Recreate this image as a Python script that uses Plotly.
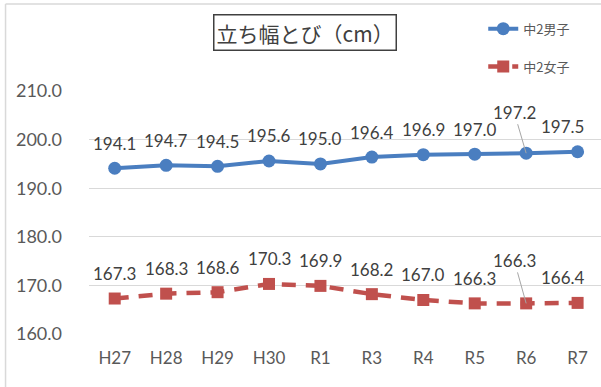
import plotly.graph_objects as go

categories = ["H27", "H28", "H29", "H30", "R1", "R3", "R4", "R5", "R6", "R7"]
boys = [194.1, 194.7, 194.5, 195.6, 195.0, 196.4, 196.9, 197.0, 197.2, 197.5]
girls = [167.3, 168.3, 168.6, 170.3, 169.9, 168.2, 167.0, 166.3, 166.3, 166.4]
y_ticks = [160, 170, 180, 190, 200, 210]
title_text = "立ち幅とび（cm）"
boys_name = "中2男子"
girls_name = "中2女子"
leader_idx = 8  # R6 labels with leader lines
last_idx = 9    # R7 labels pulled left

BLUE = "#4A7EC0"
RED = "#C0504D"
TXT = "#595959"
LABEL_FONT = dict(family="Lato, 'Noto Sans', sans-serif", size=17, color="#404040")

fig = go.Figure()
fig.add_trace(go.Scatter(
    x=categories, y=boys, name=boys_name, mode="lines+markers",
    line=dict(color=BLUE, width=4), marker=dict(symbol="circle", size=13, color=BLUE),
    legendgroup="b", cliponaxis=False,
))
fig.add_trace(go.Scatter(
    x=categories, y=girls, name=girls_name, mode="lines+markers",
    line=dict(color=RED, width=4.5, dash="14px,10px"), marker=dict(symbol="square", size=12, color=RED),
    legendgroup="g", cliponaxis=False,
))

for vals, ay in ((boys, -41), (girls, -43)):
    for i, (c, v) in enumerate(zip(categories, vals)):
        if i == leader_idx:
            fig.add_annotation(
                x=c, y=v, xref="x", yref="y", text=f"{v:.1f}", showarrow=True,
                arrowhead=0, arrowwidth=1, arrowcolor="#A6A6A6", ax=-12, ay=ay,
                standoff=0, font=LABEL_FONT,
            )
        else:
            fig.add_annotation(
                x=c, y=v, xref="x", yref="y", text=f"{v:.1f}", showarrow=False,
                yshift=25, xshift=(-15 if i == last_idx else 0), font=LABEL_FONT,
            )

# title box
fig.add_annotation(
    x=0.4225, y=1.242, xref="paper", yref="paper", xanchor="center", yanchor="middle",
    text=title_text, showarrow=False,
    font=dict(family="'Noto Sans CJK JP', sans-serif", size=21, color="#404040"),
    bordercolor="#404040", borderwidth=1.5, borderpad=2, bgcolor="white",
)

# outer chart border (only left and top edges visible in the crop)
fig.add_shape(type="line", xref="paper", yref="paper",
              x0=-0.163, x1=-0.163, y0=-0.3, y1=1.358,
              line=dict(color="#D9D9D9", width=1.5), layer="below")
fig.add_shape(type="line", xref="paper", yref="paper",
              x0=-0.163, x1=1.1, y0=1.358, y1=1.358,
              line=dict(color="#D9D9D9", width=1.5), layer="below")

fig.update_layout(
    width=601, height=387,
    margin=dict(l=89, r=0, t=91, b=53, autoexpand=False),
    paper_bgcolor="white", plot_bgcolor="white",
    showlegend=True,
    legend=dict(
        x=0.77, y=1.318, xanchor="left", yanchor="top",
        font=dict(family="'Noto Sans CJK JP', sans-serif", size=13, color=TXT),
        tracegroupgap=18, bgcolor="rgba(0,0,0,0)", itemwidth=30,
    ),
    xaxis=dict(
        type="category", range=[-0.5, 9.455], showgrid=False, zeroline=False,
        showline=False, ticks="", tickfont=dict(family="Lato, sans-serif", size=17, color=TXT),
        ticklabelstandoff=12, automargin=False,
    ),
    yaxis=dict(
        range=[160, 210], tickvals=y_ticks, ticktext=[f"{v:.1f}" for v in y_ticks],
        showgrid=True, gridcolor="#D9D9D9", gridwidth=1.3, zeroline=False, showline=False,
        ticks="", tickfont=dict(family="Lato, sans-serif", size=18, color=TXT),
        ticklabelstandoff=26, automargin=False,
    ),
)

fig.write_html("out.html", config={"displayModeBar": False},
               post_script="document.body.style.margin='0';document.body.style.overflow='hidden';"
                           "document.documentElement.style.overflow='hidden';")
